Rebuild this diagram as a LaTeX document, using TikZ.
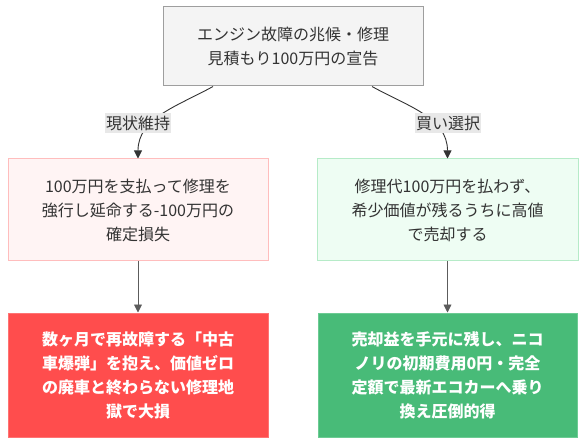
\documentclass[tikz,border=0pt]{standalone}
\usepackage{fontspec}
\usepackage{tikz}
\usetikzlibrary{arrows.meta,positioning}
\newfontfamily\jp{Noto Sans CJK JP}
\definecolor{testo}{HTML}{333333}
\definecolor{grigiobg}{HTML}{F4F4F4}
\definecolor{grigiobd}{HTML}{9E9E9E}
\definecolor{rosabg}{HTML}{FFF4F4}
\definecolor{rosabd}{HTML}{FFBDBD}
\definecolor{verdebg}{HTML}{EEFDF3}
\definecolor{verdebd}{HTML}{B6EBC8}
\definecolor{rosso}{HTML}{FF4D4D}
\definecolor{rossobd}{HTML}{FF7373}
\definecolor{verde}{HTML}{48BB78}
\definecolor{verdebd2}{HTML}{6CCB93}
\definecolor{etichetta}{HTML}{E8E8E8}

\begin{document}
\begin{tikzpicture}[x=1pt,y=1pt,
  box/.style={draw,line width=1pt,align=center,inner sep=0pt,text=testo,
    font=\jp\fontsize{16}{24}\selectfont},
  lbl/.style={fill=etichetta,inner xsep=1pt,inner ysep=3pt,text=testo,
    font=\jp\fontsize{16}{20}\selectfont},
  freccia/.style={draw=testo,line width=0.9pt,-{Triangle[length=8pt,width=8pt]}}]
\useasboundingbox (0,0) rectangle (586,-446);
% nodo iniziale
\node[box,fill=grigiobg,draw=grigiobd,minimum width=260,minimum height=79] (top) at (293,-46.5)
  {エンジン故障の兆候・修理\\見積もり100万円の宣告};
% le due scelte
\node[box,fill=rosabg,draw=rosabd,minimum width=260,minimum height=102] (rip) at (138,-210)
  {100万円を支払って修理を\\強行し延命する-100万円の\\確定損失};
\node[box,fill=verdebg,draw=verdebd,minimum width=261,minimum height=102] (ven) at (447.5,-210)
  {修理代100万円を払わず、\\希少価値が残るうちに高値\\で売却する};
% esiti
\node[box,fill=rosso,draw=rossobd,text=white,minimum width=260,minimum height=124,
  font=\jp\bfseries\fontsize{16}{24}\selectfont] (dan) at (138,-375)
  {数ヶ月で再故障する「中古\\車爆弾」を抱え、価値ゼロ\\の廃車と終わらない修理地\\獄で大損};
\node[box,fill=verde,draw=verdebd2,text=white,minimum width=259,minimum height=124,
  font=\jp\bfseries\fontsize{16}{24}\selectfont] (gua) at (447.5,-375)
  {売却益を手元に残し、ニコ\\ノリの初期費用0円・完全\\定額で最新エコカーへ乗り\\換え圧倒的得};
% collegamenti
\draw[freccia] ([xshift=-80]top.south) to[out=-151,in=90] (rip.north);
\draw[freccia] ([xshift=79]top.south) to[out=-29,in=90] (ven.north);
\draw[freccia,draw=testo!80] (rip.south) -- (dan.north);
\draw[freccia,draw=testo!80] (ven.south) -- (gua.north);
% etichette
\node[lbl] (l1) at (138,-123) {現状維持};
\node[lbl] (l2) at (448,-123) {買い選択};
\end{tikzpicture}
\end{document}
